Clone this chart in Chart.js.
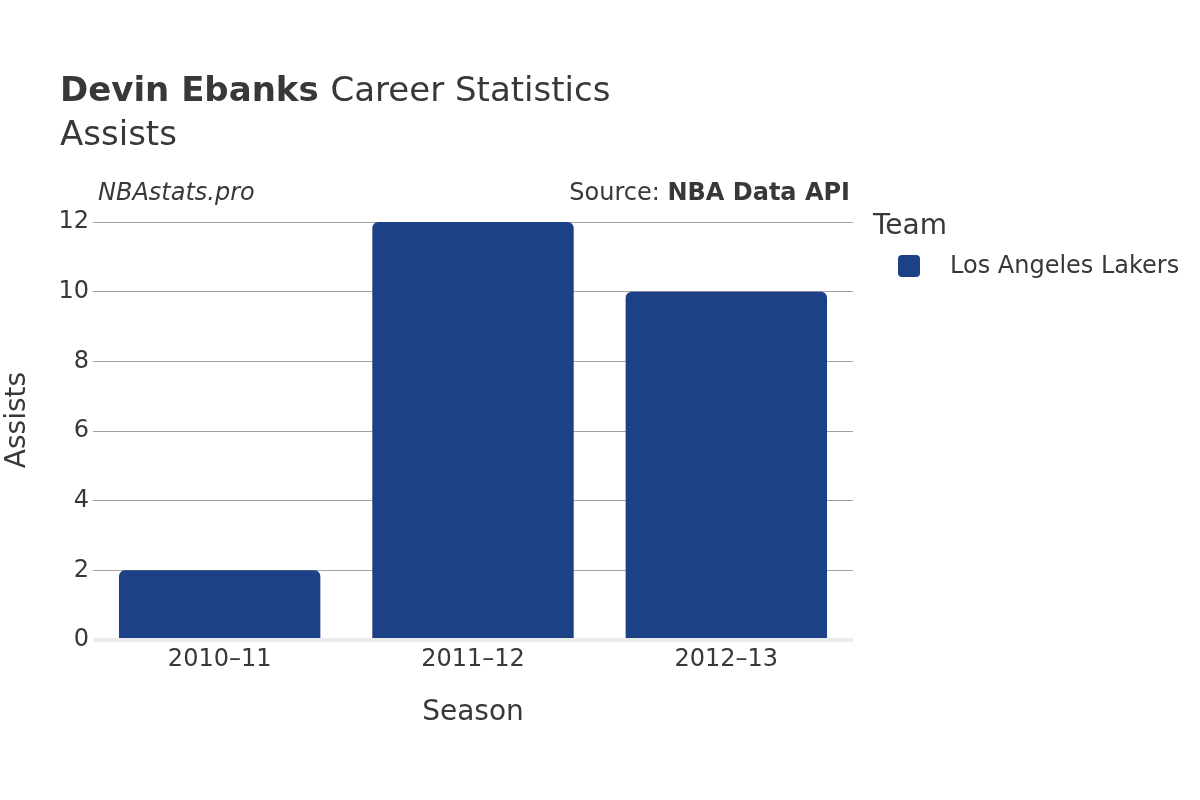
<!DOCTYPE html>
<html>
<head>
<meta charset="utf-8">
<script src="https://cdn.jsdelivr.net/npm/chart.js@4"></script>
<style>
  html, body { margin: 0; padding: 0; background: #fff; }
  #wrap { width: 1200px; height: 800px; }
</style>
</head>
<body>
<div id="wrap"><canvas id="assistsChart" width="1200" height="800"></canvas></div>
<script>
var seasons = ['2010–11', '2011–12', '2012–13'];
var assists = [2, 12, 10];
var teamName = 'Los Angeles Lakers';
var teamColor = '#1c4187';

var FONT = "'DejaVu Sans', sans-serif";
var TEXT = '#383838';

var textPlugin = {
    id: 'textPlugin',
    afterDraw: function (chart) {
        var c = chart.ctx;
        var area = chart.chartArea;
        c.save();
        c.fillStyle = TEXT;
        c.textBaseline = 'alphabetic';

        // title
        c.textAlign = 'left';
        c.font = 'bold 34px ' + FONT;
        var boldPart = 'Devin Ebanks';
        c.fillText(boldPart, 60, 101);
        var w = c.measureText(boldPart + ' ').width;
        c.font = '34px ' + FONT;
        c.fillText('Career Statistics', 60 + w, 101);
        c.fillText('Assists', 60, 145);

        // watermark and source
        c.font = 'italic 24px ' + FONT;
        c.fillText('NBAstats.pro', 98, 200);
        c.textAlign = 'right';
        c.font = 'bold 24px ' + FONT;
        var src = 'NBA Data API';
        c.fillText(src, 850, 200);
        var sw = c.measureText(src).width;
        c.font = '24px ' + FONT;
        c.fillText('Source: ', 850 - sw, 200);

        // axis titles
        c.textAlign = 'center';
        c.textBaseline = 'middle';
        c.font = '28px ' + FONT;
        c.fillText('Season', (area.left + area.right) / 2, 713);
        c.save();
        c.translate(18, 420);
        c.rotate(-Math.PI / 2);
        c.fillText('Assists', 0, 0);
        c.restore();

        // legend
        c.textAlign = 'left';
        c.font = '28px ' + FONT;
        c.fillText('Team', 873, 227);
        chart.data.datasets.forEach(function (ds, i) {
            var y = 266 + i * 36;
            c.fillStyle = ds.backgroundColor;
            c.beginPath();
            c.roundRect(898, y - 11, 22, 22, 4);
            c.fill();
            c.fillStyle = TEXT;
            c.font = '24px ' + FONT;
            c.fillText(ds.label, 950, y + 1);
        });
        c.restore();
    }
};

var ctx = document.getElementById('assistsChart').getContext('2d');
var chart = new Chart(ctx, {
    type: 'bar',
    data: {
        labels: seasons,
        datasets: [{
            label: teamName,
            data: assists,
            backgroundColor: teamColor,
            borderRadius: { topLeft: 6, topRight: 6 },
            borderSkipped: 'bottom',
            categoryPercentage: 1,
            barPercentage: 0.795
        }]
    },
    options: {
        responsive: false,
        animation: false,
        layout: { padding: { left: 0, top: 222, right: 347, bottom: 0 } },
        plugins: {
            legend: { display: false },
            tooltip: { enabled: false }
        },
        scales: {
            x: {
                grid: { display: false },
                border: { display: false },
                ticks: { color: TEXT, font: { family: FONT, size: 24 }, padding: -3 },
                afterFit: function (s) { s.height = 160; }
            },
            y: {
                min: 0,
                max: 12,
                ticks: { stepSize: 2, color: TEXT, font: { family: FONT, size: 24 }, padding: 4 },
                grid: {
                    drawTicks: false,
                    color: function (c) { return c.tick.value === 0 ? '#ebebeb' : '#a3a3a3'; },
                    lineWidth: function (c) { return c.tick.value === 0 ? 4 : 1; }
                },
                border: { display: false },
                afterFit: function (s) { s.width = 93; }
            }
        }
    },
    plugins: [textPlugin]
});
</script>
</body>
</html>
